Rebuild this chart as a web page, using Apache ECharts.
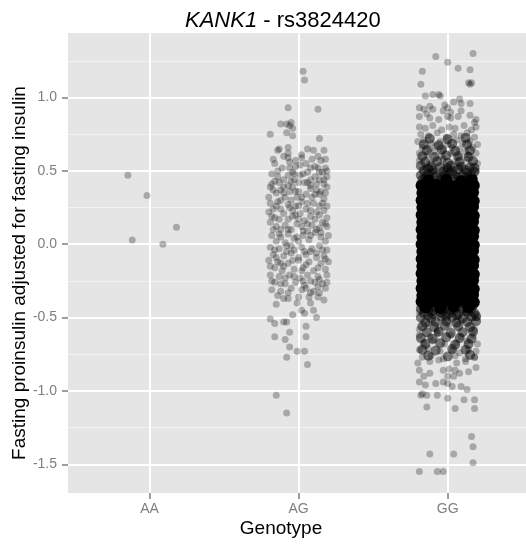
<!DOCTYPE html>
<html>
<head>
<meta charset="utf-8">
<script src="https://cdn.jsdelivr.net/npm/echarts@6/dist/echarts.min.js"></script>
<style>
html,body{margin:0;padding:0;background:#fff;}
#c{width:526px;height:546px;}
</style>
</head>
<body>
<div id="c"></div>
<script>
// ---- data ----
const genotypes = ['AA', 'AG', 'GG'];
const yTickValues = [-1.5, -1.0, -0.5, 0.0, 0.5, 1.0];
const yTickLabels = ['-1.5', '-1.0', '-0.5', '0.0', '0.5', '1.0'];
const yMinorValues = [-1.25, -0.75, -0.25, 0.25, 0.75, 1.25];

// [jittered genotype position, fasting proinsulin adjusted]
const aaPoints = [[0.855,0.47],[0.983,0.333],[1.181,0.115],[0.884,0.029],[1.090,0.0]];

const agPoints = [
[2.03,1.18],[2.04,1.12],[1.93,0.93],[2.13,0.92],[1.81,0.75],[1.88,0.82],[1.92,0.82],[1.95,0.83],[1.94,0.81],[1.96,0.79],
[1.92,0.76],[1.96,0.74],[2.14,0.72],[1.86,0.64],[1.87,0.65],[1.93,0.66],[2.06,0.65],[2.10,0.64],[2.17,0.64],[1.93,0.62],
[1.93,0.59],[1.94,0.56],[2.02,0.61],[2.02,0.59],[1.98,0.57],[2.18,0.58],[1.98,0.53],[1.96,0.49],[2.08,0.52],[2.11,0.53],
[2.13,0.52],[2.18,0.52],[2.01,0.47],[2.03,0.48],[1.86,0.46],[1.90,0.44],[1.93,0.47],[2.11,0.46],[2.14,0.44],[2.19,0.46],
[2.08,0.44],[1.90,0.39],[1.93,0.40],[1.96,0.39],[2.00,0.42],[2.04,0.42],[2.19,0.39],[2.17,0.41],[1.83,0.37],[1.85,0.35],
[2.08,0.38],[2.12,0.37],[2.02,0.32],[1.99,0.32],[1.90,0.35],[1.91,0.32],[2.09,0.32],[2.14,0.34],[1.80,0.32],[1.81,0.28],
[1.85,0.26],[1.80,0.22],[1.93,0.27],[1.98,0.26],[2.02,0.29],[2.10,0.28],[2.14,0.26],[2.19,0.26],[1.90,0.21],[1.96,0.19],
[2.01,0.21],[2.08,0.19],[2.14,0.20],[2.19,0.18],[1.81,0.15],[1.85,0.12],[1.91,0.13],[1.99,0.14],[2.02,0.12],[2.09,0.13],
[2.14,0.11],[2.19,0.12],[1.82,0.06],[1.88,0.05],[1.93,0.07],[1.97,0.04],[2.03,0.06],[2.11,0.08],[2.15,0.05],[2.20,0.06],
[1.84,0.55],[1.89,0.52],[2.05,0.55],[2.15,0.57],[1.82,0.48],[2.06,0.49],[2.16,0.49],[1.87,0.42],[1.95,0.43],[2.12,0.41],
[1.88,0.30],[1.95,0.30],[2.05,0.34],[2.17,0.31],[1.83,0.24],[1.88,0.24],[2.05,0.24],[2.12,0.22],[2.17,0.23],[1.84,0.18],
[1.93,0.17],[2.04,0.16],[2.11,0.17],[2.16,0.15],[1.88,0.10],[1.95,0.10],[2.06,0.09],[2.12,0.10],[1.85,0.02],[1.91,0.01],
[2.00,0.02],[2.07,0.03],[2.18,0.02],[1.97,0.48],[2.00,0.36],[2.06,0.28],[1.96,0.23],[2.00,0.17],[1.94,0.36],[2.08,0.40],
[1.82,0.41],[2.15,0.36],
[1.83,0.58],[1.90,0.60],[2.09,0.58],[2.13,0.60],[1.86,0.50],[1.94,0.52],[2.01,0.54],[2.14,0.49],[2.19,0.50],[1.84,0.43],
[1.97,0.44],[2.06,0.42],[2.17,0.44],[1.81,0.39],[1.88,0.37],[1.98,0.36],[2.11,0.34],[2.18,0.35],[1.86,0.29],[1.94,0.25],
[2.00,0.26],[2.08,0.23],[2.16,0.28],[1.82,0.19],[1.87,0.17],[1.98,0.20],[2.06,0.14],[2.18,0.14],[1.83,0.10],[1.93,0.10],
[2.03,0.09],[2.15,0.08],[1.87,0.07],[1.99,0.05],[2.08,0.06],
[1.81,-0.02],[1.87,-0.03],[1.92,-0.01],[1.97,-0.04],[2.02,-0.02],[2.09,-0.03],[2.14,-0.01],[2.19,-0.04],[1.83,-0.07],[1.90,-0.08],
[1.95,-0.06],[2.05,-0.07],[2.12,-0.09],[2.17,-0.08],[1.80,-0.11],[1.86,-0.12],[1.93,-0.13],[2.00,-0.11],[2.07,-0.12],[2.15,-0.13],
[2.20,-0.12],[1.84,-0.16],[1.89,-0.18],[1.97,-0.17],[2.03,-0.16],[2.10,-0.18],[2.18,-0.17],[1.81,-0.21],[1.87,-0.22],[1.94,-0.21],
[2.01,-0.23],[2.06,-0.21],[2.13,-0.22],[2.19,-0.21],[1.84,-0.26],[1.91,-0.27],[1.98,-0.26],[2.04,-0.28],[2.11,-0.26],[2.16,-0.27],
[1.82,-0.31],[1.88,-0.32],[1.95,-0.30],[2.02,-0.31],[2.08,-0.33],[2.18,-0.30],[1.86,-0.35],[2.13,-0.29],[1.92,-0.05],[2.00,-0.09],
[2.08,-0.05],[1.90,-0.15],[2.13,-0.16],[1.97,-0.22],[2.08,-0.25],[1.88,-0.27],[2.02,-0.18],[1.85,-0.09],[2.16,-0.04],
[1.84,-0.04],[1.95,-0.01],[2.04,-0.05],[2.12,-0.06],[1.81,-0.15],[1.88,-0.13],[1.96,-0.11],[2.05,-0.14],[2.18,-0.10],[1.82,-0.25],
[1.91,-0.23],[2.03,-0.25],[2.14,-0.24],[1.93,-0.33],[2.05,-0.30],[2.19,-0.26],
[1.85,-0.41],[1.90,-0.37],[1.93,-0.37],[2.00,-0.36],[1.99,-0.40],[2.07,-0.36],[2.08,-0.40],[2.13,-0.36],[2.17,-0.38],[2.10,-0.32],
[2.14,-0.33],[1.96,-0.48],[2.02,-0.45],[2.04,-0.47],[2.10,-0.45],[2.12,-0.50],[1.81,-0.51],[1.84,-0.54],[1.90,-0.53],[1.92,-0.53],
[2.05,-0.56],[1.94,-0.60],[1.84,-0.63],[1.91,-0.65],[2.05,-0.63],[1.94,-0.70],[1.99,-0.73],[2.04,-0.73],[1.92,-0.77],[2.06,-0.82],
[1.85,-1.03],[1.92,-1.15]
];

// GG: individual observations in the thinner parts of the cloud
const ggPoints = [
[2.92,1.28],[3.17,1.30],[3.00,1.24],[2.83,1.18],[3.07,1.20],[3.15,1.19],[2.82,1.09],[3.14,1.10],[3.16,1.10],[3.15,1.09],
[2.85,1.01],[2.90,1.02],[2.94,1.02],[2.95,1.01],[3.04,0.97],[3.08,0.99],[3.09,0.96],[3.15,0.96],
[2.81,0.93],[2.84,0.92],[2.88,0.94],[2.90,0.92],[2.98,0.95],[3.00,0.93],[3.09,0.91],[2.97,0.91],[3.02,0.90],
[2.81,0.87],[2.86,0.89],[2.88,0.86],[2.94,0.85],[3.00,0.87],[3.02,0.86],[3.07,0.87],[3.15,0.88],[3.19,0.85],[3.18,0.83],
[2.81,0.80],[2.85,0.79],[2.90,0.81],[2.96,0.78],[3.01,0.80],[3.05,0.79],[3.11,0.81],[3.16,0.78],[3.19,0.80],
[2.82,0.75],[2.87,0.74],[2.93,0.76],[2.99,0.73],[3.04,0.75],[3.09,0.74],[3.13,0.76],[3.18,0.73],
[2.80,0.70],[2.84,0.71],[2.89,0.69],[2.95,0.70],[3.00,0.68],[3.06,0.71],[3.10,0.69],[3.15,0.70],[3.20,0.68],
[2.83,0.66],[2.88,0.65],[2.92,0.67],[2.97,0.64],[3.03,0.66],[3.08,0.65],[3.12,0.63],[3.17,0.66],
[2.81,0.62],[2.86,0.61],[2.91,0.63],[2.96,0.60],[3.02,0.62],[3.07,0.60],[3.14,0.61],[3.19,0.62],
[2.81,0.57],[2.88,0.55],[2.97,0.58],[3.05,0.56],[3.13,0.58],[3.20,0.55],[2.85,0.52],[2.99,0.51],[3.08,0.53],[3.19,0.50],
[2.81,-0.46],[2.96,-0.48],[3.12,-0.45],[3.20,-0.50],[2.87,-0.54],[3.01,-0.55],[3.09,-0.52],[2.81,-0.58],[2.93,-0.59],[3.18,-0.58],
[2.81,-0.62],[2.88,-0.63],[2.93,-0.61],[3.02,-0.62],[3.09,-0.63],[3.17,-0.62],
[2.84,-0.67],[2.90,-0.66],[2.98,-0.68],[3.06,-0.67],[3.13,-0.66],[3.20,-0.68],
[2.81,-0.72],[2.87,-0.71],[2.95,-0.73],[3.03,-0.72],[3.08,-0.74],[3.14,-0.72],[3.19,-0.73],
[2.83,-0.77],[2.89,-0.76],[2.97,-0.78],[3.05,-0.76],[3.12,-0.78],[3.18,-0.77],
[2.80,-0.81],[2.88,-0.80],[2.94,-0.79],[3.12,-0.80],[3.18,-0.77],[3.06,-0.81],
[2.81,-0.86],[2.84,-0.90],[2.88,-0.88],[2.97,-0.86],[3.01,-0.85],[3.05,-0.86],[3.08,-0.88],[3.14,-0.87],[3.19,-0.84],[3.00,-0.90],[3.04,-0.90],
[2.81,-0.94],[2.85,-0.96],[2.92,-0.95],[2.97,-0.94],[3.00,-0.95],[3.03,-0.97],[3.09,-0.97],[3.13,-0.99],
[2.82,-1.03],[2.83,-1.02],[2.86,-1.03],[2.93,-1.03],[3.00,-1.05],[3.11,-1.06],[3.18,-1.06],[2.86,-1.11],[3.05,-1.12],[3.18,-1.12],
[3.16,-1.31],[3.17,-1.38],[2.88,-1.43],[3.04,-1.43],[3.17,-1.49],[2.81,-1.55],[2.93,-1.55],[2.97,-1.55]
];

// GG: overlapping observations where the cloud thickens
const ggDense = [
[2.83,0.44],[2.88,0.445],[2.94,0.435],[2.99,0.445],[3.05,0.44],[3.11,0.435],[3.17,0.445],
[2.82,0.47],[2.87,0.475],[2.92,0.465],[2.98,0.47],[3.04,0.475],[3.10,0.47],[3.16,0.465],
[2.85,0.455],[2.96,0.46],[3.07,0.455],[3.14,0.46],[2.90,0.485],[3.01,0.49],[3.13,0.485],
[2.84,0.50],[2.90,0.505],[2.97,0.495],[3.03,0.50],[3.12,0.505],[3.18,0.495],
[2.82,0.535],[2.89,0.53],[2.95,0.525],[3.02,0.535],[3.09,0.53],[3.15,0.525],
[2.87,0.515],[3.00,0.52],[3.07,0.51],[3.18,0.52],
[2.85,0.56],[2.93,0.565],[3.00,0.555],[3.08,0.56],[3.17,0.565],
[2.83,0.60],[2.91,0.595],[2.99,0.605],[3.07,0.60],[3.14,0.595],
[2.86,0.64],[2.96,0.645],[3.05,0.635],[3.15,0.64],
[2.84,0.68],[2.94,0.675],[3.03,0.685],[3.13,0.68],
[2.88,0.72],[3.00,0.715],[3.12,0.725],
[2.83,-0.41],[2.88,-0.415],[2.94,-0.405],[2.99,-0.415],[3.05,-0.41],[3.11,-0.405],[3.17,-0.415],
[2.82,-0.44],[2.87,-0.445],[2.92,-0.435],[2.98,-0.44],[3.04,-0.445],[3.10,-0.44],[3.16,-0.435],
[2.85,-0.425],[2.96,-0.43],[3.07,-0.425],[3.14,-0.43],[2.90,-0.455],[3.01,-0.45],[3.13,-0.455],
[2.84,-0.47],[2.90,-0.475],[2.95,-0.465],[3.01,-0.47],[3.07,-0.475],[3.13,-0.465],[3.18,-0.47],
[2.82,-0.50],[2.89,-0.505],[2.96,-0.495],[3.03,-0.50],[3.10,-0.505],[3.16,-0.495],
[2.87,-0.485],[2.99,-0.49],[3.06,-0.485],[3.19,-0.49],
[2.85,-0.535],[2.92,-0.53],[2.99,-0.525],[3.06,-0.535],[3.13,-0.53],[3.19,-0.525],
[2.83,-0.56],[2.91,-0.565],[2.98,-0.555],[3.07,-0.56],[3.15,-0.565],
[2.86,-0.60],[2.94,-0.595],[3.02,-0.605],[3.10,-0.60],[3.17,-0.595],
[2.82,-0.64],[2.90,-0.645],[2.99,-0.635],[3.08,-0.64],[3.16,-0.645],
[2.85,-0.68],[2.95,-0.675],[3.05,-0.685],[3.14,-0.68],
[2.83,-0.72],[2.92,-0.725],[3.03,-0.715],[3.12,-0.72],
[2.87,-0.76],[3.00,-0.765],[3.15,-0.755]
];

// GG: saturated centre of the cloud
const ggCore = [
[2.87,0.435],[2.99,0.44],[3.09,0.43],[3.16,0.44],
[2.825,0.40],[2.87,0.395],[2.925,0.405],[2.975,0.39],[3.02,0.40],[3.075,0.405],[3.13,0.395],[3.175,0.40],
[2.83,0.35],[2.88,0.355],[2.92,0.345],[2.98,0.35],[3.03,0.355],[3.07,0.345],[3.125,0.35],[3.17,0.355],
[2.825,0.30],[2.875,0.295],[2.93,0.305],[2.97,0.30],[3.025,0.295],[3.08,0.305],[3.12,0.30],[3.175,0.295],
[2.83,0.25],[2.87,0.255],[2.925,0.245],[2.98,0.25],[3.02,0.255],[3.075,0.245],[3.13,0.25],[3.17,0.255],
[2.825,0.20],[2.88,0.195],[2.92,0.205],[2.975,0.20],[3.03,0.195],[3.07,0.205],[3.125,0.20],[3.175,0.195],
[2.83,0.15],[2.875,0.155],[2.93,0.145],[2.97,0.15],[3.025,0.155],[3.08,0.145],[3.12,0.15],[3.17,0.155],
[2.825,0.10],[2.87,0.095],[2.925,0.105],[2.98,0.10],[3.02,0.095],[3.075,0.105],[3.13,0.10],[3.175,0.095],
[2.83,0.05],[2.88,0.055],[2.92,0.045],[2.975,0.05],[3.03,0.055],[3.07,0.045],[3.125,0.05],[3.17,0.055],
[2.825,0.00],[2.875,-0.005],[2.93,0.005],[2.97,0.00],[3.025,-0.005],[3.08,0.005],[3.12,0.00],[3.175,-0.005],
[2.83,-0.05],[2.87,-0.045],[2.925,-0.055],[2.98,-0.05],[3.02,-0.045],[3.075,-0.055],[3.13,-0.05],[3.17,-0.045],
[2.825,-0.10],[2.88,-0.105],[2.92,-0.095],[2.975,-0.10],[3.03,-0.105],[3.07,-0.095],[3.125,-0.10],[3.175,-0.105],
[2.83,-0.15],[2.875,-0.145],[2.93,-0.155],[2.97,-0.15],[3.025,-0.145],[3.08,-0.155],[3.12,-0.15],[3.17,-0.145],
[2.825,-0.20],[2.87,-0.205],[2.925,-0.195],[2.98,-0.20],[3.02,-0.205],[3.075,-0.195],[3.13,-0.20],[3.175,-0.205],
[2.83,-0.25],[2.88,-0.245],[2.92,-0.255],[2.975,-0.25],[3.03,-0.245],[3.07,-0.255],[3.125,-0.25],[3.17,-0.245],
[2.825,-0.30],[2.875,-0.305],[2.93,-0.295],[2.97,-0.30],[3.025,-0.305],[3.08,-0.295],[3.12,-0.30],[3.175,-0.305],
[2.83,-0.35],[2.87,-0.345],[2.925,-0.355],[2.98,-0.35],[3.02,-0.345],[3.075,-0.355],[3.13,-0.35],[3.17,-0.345],
[2.825,-0.39],[2.88,-0.395],[2.92,-0.385],[2.975,-0.39],[3.03,-0.395],[3.07,-0.385],[3.125,-0.39],[3.175,-0.395],
[2.85,-0.43],[2.95,-0.435],[3.04,-0.425],[3.14,-0.43]
];

// ---- chart ----
const FONT = '"Liberation Sans", Arial, Helvetica, sans-serif';
const chart = echarts.init(document.getElementById('c'), null, {renderer: 'canvas'});
const pointStyle = {color: 'rgba(0,0,0,0.27)', opacity: 1};

chart.setOption({
  animation: false,
  backgroundColor: '#ffffff',
  textStyle: {fontFamily: FONT},
  title: {
    text: '{i|KANK1} - rs3824420',
    left: 180,
    top: 5,
    textStyle: {
      fontFamily: FONT, fontSize: 22, fontWeight: 'normal', color: '#000',
      rich: {i: {fontFamily: FONT, fontSize: 22, fontStyle: 'italic', color: '#000'}}
    }
  },
  grid: {
    left: 68, right: 0, top: 33, bottom: 53,
    show: true, backgroundColor: '#E5E5E5', borderWidth: 0, containLabel: false
  },
  xAxis: {
    type: 'value',
    min: 0.4534, max: 3.5252,
    axisLine: {show: false, onZero: false},
    axisTick: {show: true, length: 6, customValues: [1, 2, 3], lineStyle: {color: '#7F7F7F', width: 1.5}},
    axisLabel: {
      customValues: [1, 2, 3], margin: 9, color: '#7F7F7F', fontSize: 14, fontFamily: FONT,
      formatter: v => genotypes[Math.round(v) - 1]
    },
    splitLine: {show: true, lineStyle: {color: '#FFFFFF', width: 2}}
  },
  yAxis: [{
    type: 'value',
    min: -1.696, max: 1.44,
    axisLine: {show: false, onZero: false},
    axisTick: {show: true, length: 6, customValues: yTickValues, lineStyle: {color: '#7F7F7F', width: 1.5}},
    axisLabel: {
      customValues: yTickValues, margin: 11, color: '#7F7F7F', fontSize: 14, fontFamily: FONT,
      formatter: v => yTickLabels[yTickValues.findIndex(t => Math.abs(t - v) < 1e-6)]
    },
    splitLine: {show: true, lineStyle: {color: '#FFFFFF', width: 2}}
  }, {
    type: 'value',
    min: -1.696, max: 1.44,
    position: 'left',
    axisLine: {show: false, onZero: false},
    axisTick: {show: false, customValues: yMinorValues},
    axisLabel: {show: false, customValues: yMinorValues},
    splitLine: {show: true, lineStyle: {color: '#F2F2F2', width: 1}}
  }],
  series: [
    {type: 'scatter', name: 'AA', data: aaPoints, symbolSize: 7, itemStyle: pointStyle, silent: true},
    {type: 'scatter', name: 'AG', data: agPoints, symbolSize: 7, itemStyle: pointStyle, silent: true},
    {type: 'scatter', name: 'GG core', data: ggCore, symbolSize: 12, itemStyle: {color: '#000000', opacity: 1}, silent: true},
    {type: 'scatter', name: 'GG dense', data: ggDense, symbolSize: 10, itemStyle: {color: 'rgba(0,0,0,0.5)', opacity: 1}, silent: true},
    {type: 'scatter', name: 'GG', data: ggPoints, symbolSize: 7, itemStyle: pointStyle, silent: true}
  ],
  graphic: [
    {type: 'text', x: 281, y: 529, style: {text: 'Genotype', font: '19px ' + FONT, fill: '#000', textAlign: 'center', textVerticalAlign: 'middle'}},
    {type: 'text', x: 20, y: 273, rotation: Math.PI / 2,
     style: {text: 'Fasting proinsulin adjusted for fasting insulin', font: '19px ' + FONT, fill: '#000', textAlign: 'center', textVerticalAlign: 'middle'}}
  ]
});
</script>
</body>
</html>
